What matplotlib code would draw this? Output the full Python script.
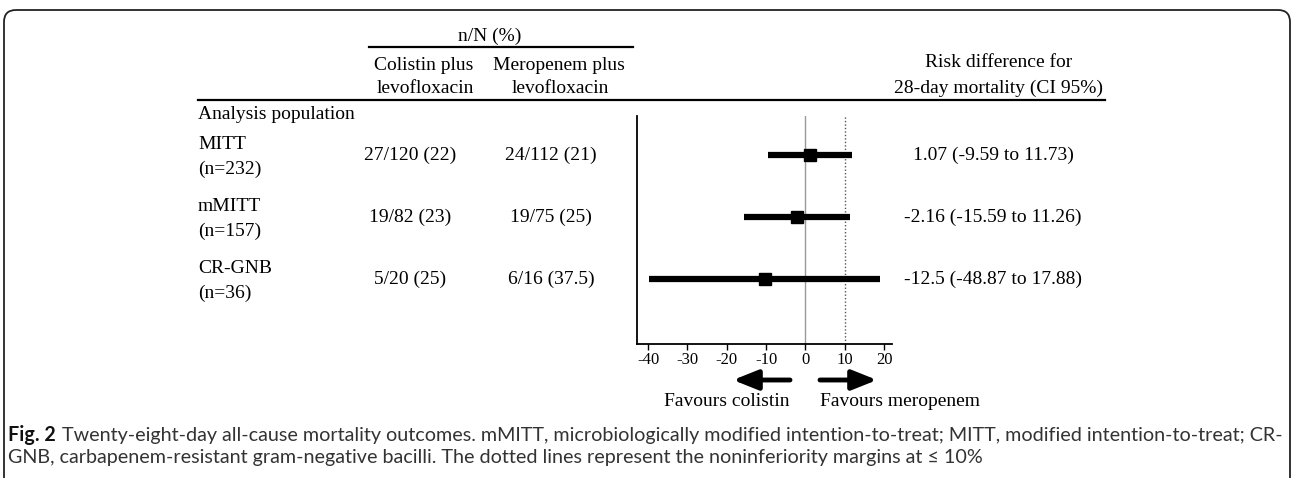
import matplotlib
matplotlib.use("Agg")
import matplotlib.pyplot as plt
from matplotlib.patches import FancyBboxPatch, FancyArrowPatch
from matplotlib import transforms

# ---------------- data ----------------
populations = ["MITT", "mMITT", "CR-GNB"]
pop_n = ["(n=232)", "(n=157)", "(n=36)"]
colistin = ["27/120 (22)", "19/82 (23)", "5/20 (25)"]
meropenem = ["24/112 (21)", "19/75 (25)", "6/16 (37.5)"]
rd_point = [1.07, -2.16, -10.2]
rd_low = [-9.59, -15.59, -39.7]
rd_high = [11.73, 11.26, 19.0]
rd_labels = ["1.07 (-9.59 to 11.73)", "-2.16 (-15.59 to 11.26)", "-12.5 (-48.87 to 17.88)"]
xticks = [-40, -30, -20, -10, 0, 10, 20]
margin = 10
caption_bold = "Fig. 2"
caption_line1 = ("Twenty-eight-day all-cause mortality outcomes. mMITT, microbiologically modified "
                 "intention-to-treat; MITT, modified intention-to-treat; CR-")
caption_line2 = ("GNB, carbapenem-resistant gram-negative bacilli. The dotted lines represent the "
                 "noninferiority margins at \u2264 10%")

W, H = 1292, 478
fig = plt.figure(figsize=(W / 100, H / 100), dpi=100)
bg = fig.add_axes([0, 0, 1, 1])
bg.set_xlim(0, W)
bg.set_ylim(H, 0)
bg.axis("off")

SERIF = ["Liberation Serif", "DejaVu Serif"]
SANS = ["Lato", "Open Sans", "DejaVu Sans"]
FS = 14

# border
bg.add_patch(FancyBboxPatch((4, 10), 1286, 500, boxstyle="round,pad=0,rounding_size=12",
                            fill=False, ec="#222222", lw=1.3))

# forest axes
ax_l, ax_r, ax_t, ax_b = 637, 892, 116, 344
ax = fig.add_axes([ax_l / W, 1 - ax_b / H, (ax_r - ax_l) / W, (ax_b - ax_t) / H])
ax.set_xlim(-42.8, 22.0)
ax.set_ylim(3.048, -0.629)
for s in ["top", "right"]:
    ax.spines[s].set_visible(False)
ax.spines["left"].set_linewidth(1.3)
ax.spines["bottom"].set_linewidth(1.3)
ax.set_yticks([])
ax.set_xticks(xticks)
ax.set_xticklabels([str(t) for t in xticks], fontfamily=SERIF, fontsize=12)
ax.tick_params(axis="x", length=4, width=1, pad=2)
ax.axvline(0, color="#999999", lw=1.0)
ax.axvline(margin, color="#555555", lw=1.0, ls=(0, (1, 1.5)))
rows = list(range(len(populations)))
for i in rows:
    ax.plot([rd_low[i], rd_high[i]], [i, i], color="black", lw=4.5, solid_capstyle="butt")
    ax.plot(rd_point[i], i, marker="s", color="black", ms=8.5)

# table text
tr = transforms.blended_transform_factory(bg.transData, ax.transData)
for i in rows:
    bg.text(198, i - 0.165, populations[i], transform=tr, ha="left", va="center", fontsize=FS, fontfamily=SERIF)
    bg.text(198, i + 0.235, pop_n[i], transform=tr, ha="left", va="center", fontsize=FS, fontfamily=SERIF)
    bg.text(410, i, colistin[i], transform=tr, ha="center", va="center", fontsize=FS, fontfamily=SERIF)
    bg.text(551, i, meropenem[i], transform=tr, ha="center", va="center", fontsize=FS, fontfamily=SERIF)
    bg.text(993, i, rd_labels[i], transform=tr, ha="center", va="center", fontsize=FS, fontfamily=SERIF)

# header
bg.text(490, 36, "n/N (%)", ha="center", va="center", fontsize=FS, fontfamily=SERIF)
bg.plot([369, 633], [47, 47], color="black", lw=1.6)
bg.text(424, 65, "Colistin plus", ha="center", va="center", fontsize=FS, fontfamily=SERIF)
bg.text(425, 88, "levofloxacin", ha="center", va="center", fontsize=FS, fontfamily=SERIF)
bg.text(559, 65, "Meropenem plus", ha="center", va="center", fontsize=FS, fontfamily=SERIF)
bg.text(560, 88, "levofloxacin", ha="center", va="center", fontsize=FS, fontfamily=SERIF)
bg.text(999, 62, "Risk difference for", ha="center", va="center", fontsize=FS, fontfamily=SERIF)
bg.text(999, 88, "28-day mortality (CI 95%)", ha="center", va="center", fontsize=FS, fontfamily=SERIF)
bg.plot([198, 1105], [100, 100], color="black", lw=1.6)
bg.text(198, 114, "Analysis population", ha="left", va="center", fontsize=FS, fontfamily=SERIF)

# arrows
for (x0, x1) in [(790, 733), (820, 877)]:
    bg.add_patch(FancyArrowPatch((x0, 380), (x1, 380), arrowstyle="-|>,head_length=15,head_width=6",
                                 mutation_scale=1, lw=3.5, color="black", shrinkA=0, shrinkB=0))
bg.text(727, 401, "Favours colistin", ha="center", va="center", fontsize=FS, fontfamily=SERIF)
bg.text(820, 401, "Favours meropenem", ha="left", va="center", fontsize=FS, fontfamily=SERIF)

# caption (size fitted to the line width of the reference layout)
fig.canvas.draw()
r = fig.canvas.get_renderer()
CFS = 10.0
t1 = bg.text(8, 435, caption_bold, ha="left", va="center", fontsize=CFS, fontfamily=SANS,
             fontweight="bold", color="#111111")
t2 = bg.text(0, 435, caption_line1, ha="left", va="center", fontsize=CFS, fontfamily=SANS, color="#333333")
w1 = t1.get_window_extent(renderer=r).width
w2 = t2.get_window_extent(renderer=r).width
scale = (1283 - 8) / (w1 + w2 + 0.3 * CFS * 100 / 72)
CFS *= scale
t1.set_fontsize(CFS)
t2.set_fontsize(CFS)
bb = t1.get_window_extent(renderer=r)
x_end = bg.transData.inverted().transform((bb.x1, bb.y0))[0]
t2.set_x(x_end + 0.3 * CFS * 100 / 72)
bg.text(8, 457, caption_line2, ha="left", va="center", fontsize=CFS, fontfamily=SANS, color="#333333")

fig.savefig("out.png", dpi=100)
